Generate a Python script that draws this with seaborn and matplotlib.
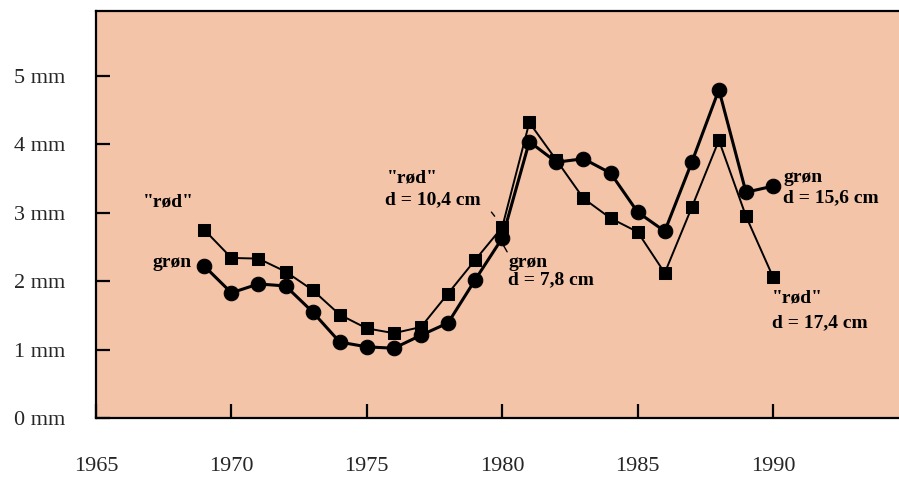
import matplotlib
matplotlib.use("Agg")
import matplotlib.pyplot as plt
import seaborn as sns
import pandas as pd

years = list(range(1969, 1991))
rod = [2.75, 2.34, 2.33, 2.14, 1.87, 1.51, 1.31, 1.24, 1.33, 1.82, 2.31, 2.79,
       4.32, 3.77, 3.21, 2.92, 2.72, 2.12, 3.08, 4.06, 2.95, 2.06]
gron = [2.22, 1.83, 1.96, 1.93, 1.55, 1.11, 1.04, 1.02, 1.21, 1.39, 2.02, 2.63,
        4.04, 3.74, 3.79, 3.58, 3.01, 2.73, 3.74, 4.80, 3.30, 3.39]
xticks = [1965, 1970, 1975, 1980, 1985, 1990]
yticks = [0, 1, 2, 3, 4, 5]
ylabels = ["0 mm", "1 mm", "2 mm", "3 mm", "4 mm", "5 mm"]

sns.set_style("white")
plt.rcParams["font.family"] = ["Liberation Serif", "DejaVu Serif"]

fig = plt.figure(figsize=(8.99, 4.78), dpi=100)
W, H = 899, 478
ax = fig.add_axes([96 / W, (H - 418) / H, (W - 96) / W, (418 - 11) / H])
ax.set_facecolor("#F3C4A8")

df_r = pd.DataFrame({"year": years, "val": rod})
df_g = pd.DataFrame({"year": years, "val": gron})
sns.lineplot(data=df_g, x="year", y="val", ax=ax, color="black", lw=2.2,
             marker="o", markersize=10.5, markeredgecolor="black")
sns.lineplot(data=df_r, x="year", y="val", ax=ax, color="black", lw=1.4,
             marker="s", markersize=8.5, markeredgecolor="black")

ax.set_xlim(1965, 1994.65)
ax.set_ylim(0, 5.95)
ax.set_xticks(xticks)
ax.set_xticklabels([str(x) for x in xticks])
ax.set_yticks(yticks)
ax.set_yticklabels(ylabels)
ax.tick_params(axis="both", direction="in", length=10, width=1.6, color="black",
               labelsize=16, bottom=True, left=True, top=False, right=False)
ax.tick_params(axis="x", pad=28)
ax.tick_params(axis="y", pad=22)
ax.set_xlabel("")
ax.set_ylabel("")
for s in ["left", "bottom", "top"]:
    ax.spines[s].set_color("black")
    ax.spines[s].set_linewidth(1.6)
ax.spines["right"].set_visible(False)

fs = 14
kw = dict(fontsize=fs, fontweight="bold", color="black", va="center", ha="left")
ax.text(1966.74, 3.16, '"rød"', **kw)
ax.text(1967.07, 2.28, "grøn", **kw)
ax.text(1975.75, 3.51, '"rød"', **kw)
ax.text(1975.68, 3.19, "d = 10,4 cm", **kw)
ax.text(1980.22, 2.28, "grøn", **kw)
ax.text(1980.22, 2.02, "d = 7,8 cm", **kw)
ax.text(1990.38, 3.52, "grøn", **kw)
ax.text(1990.38, 3.22, "d = 15,6 cm", **kw)
ax.text(1989.97, 1.75, '"rød"', **kw)
ax.text(1989.97, 1.40, "d = 17,4 cm", **kw)
ax.plot([1979.6, 1979.72], [3.01, 2.95], color="black", lw=1)
ax.plot([1980.05, 1980.18], [2.52, 2.43], color="black", lw=1)

fig.savefig("out.png", dpi=100)
